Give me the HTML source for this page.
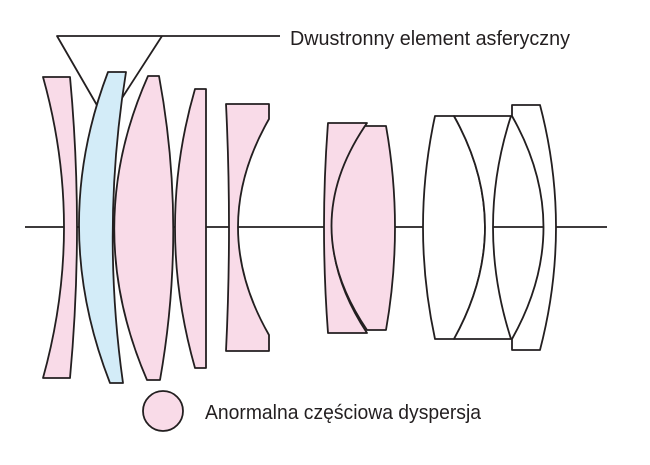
<!DOCTYPE html>
<html><head><meta charset="utf-8"><style>
html,body{margin:0;padding:0;background:#fff;width:650px;height:465px;overflow:hidden}
svg{display:block}
text{font-family:"Liberation Sans",sans-serif;fill:#231f20}
</style></head><body>
<svg width="650" height="465" viewBox="0 0 650 465" xmlns="http://www.w3.org/2000/svg">
<g stroke="#231f20" stroke-width="1.8" stroke-linejoin="round" fill="none">
<line x1="25" y1="227" x2="607" y2="227"/>
<polyline points="280,36 57,36 98,107"/>
<line x1="162" y1="36" x2="122" y2="98"/>
<path d="M43,77 L70,77 Q84,227 70,378 L43,378 Q85,227 43,77 Z" fill="#f9dbe8"/>
<path d="M108,72 L126,72 Q101,227 123,383 L110,383 Q49,227 108,72 Z" fill="#d3ecf8"/>
<path d="M148,76 L159,76 Q187,227 160,380 L147,380 Q81,227 148,76 Z" fill="#f9dbe8"/>
<path d="M195,89 L206,89 L206,368 L195,368 Q155,227 195,89 Z" fill="#f9dbe8"/>
<path d="M226,104 L269,104 L269,119 Q207,227 269,335 L269,351 L226,351 Q232,227 226,104 Z" fill="#f9dbe8"/>
<path d="M328,123 L367,123 Q297,227 367,333 L328,333 Q320,227 328,123 Z" fill="#f9dbe8"/>
<path d="M365,126 L386,126 Q404,227 386,330 L367,330 Q297,227 365,126 Z" fill="#f9dbe8"/>
<path d="M435,116 L454,116 Q516,227 454,339 L435,339 Q411,227 435,116 Z" fill="#fff"/>
<path d="M454,116 L511,116 Q475,227 511,339 L454,339 Q516,227 454,116 Z" fill="#fff"/>
<path d="M512,105 L540,105 Q572,227 540,350 L512,350 L512,339 Q575,227 512,116 Z" fill="#fff"/>
<circle cx="163" cy="411" r="20" fill="#f9dbe8"/>
</g>
<text x="290" y="45" font-size="20" textLength="280" lengthAdjust="spacingAndGlyphs">Dwustronny element asferyczny</text>
<text x="205" y="419" font-size="20" textLength="276" lengthAdjust="spacingAndGlyphs">Anormalna częściowa dyspersja</text>
</svg>
</body></html>
